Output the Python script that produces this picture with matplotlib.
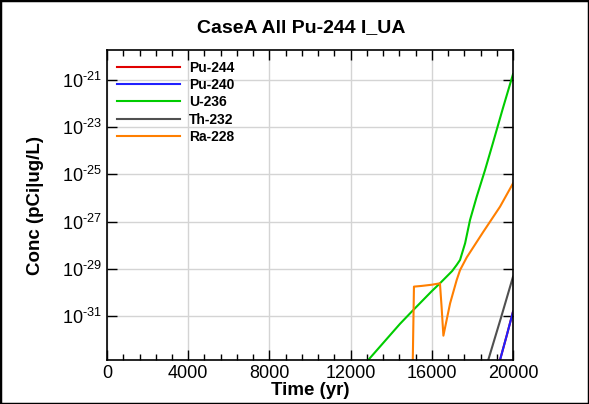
import numpy as np
import matplotlib
matplotlib.use("Agg")
import matplotlib.pyplot as plt
from matplotlib.patches import Rectangle
from matplotlib.ticker import LogLocator, MultipleLocator, NullLocator, FuncFormatter

plt.rcParams['font.family'] = ['Liberation Sans', 'DejaVu Sans']
plt.rcParams['mathtext.fontset'] = 'custom'
plt.rcParams['mathtext.rm'] = 'Liberation Sans'
plt.rcParams['mathtext.it'] = 'Liberation Sans:italic'
plt.rcParams['mathtext.bf'] = 'Liberation Sans:bold'

# Concentrations (log10 of pCi|ug/L) vs time (yr)
pu244_t = [19300, 19360, 19700, 20000]
pu244_log = [-33.1, -32.87, -31.8, -30.82]

pu240_t = [19300, 19360, 19700, 20000]
pu240_log = [-33.1, -32.87, -31.8, -30.82]

u236_t = [12600, 12870, 14430, 15010, 16000, 16400, 17000, 17225, 17390,
          17640, 17880, 18210, 18620, 19000, 19500, 20000]
u236_log = [-33.2, -32.87, -31.34, -30.82, -29.95, -29.62, -29.1, -28.84, -28.63,
            -27.92, -26.94, -25.95, -24.82, -23.7, -22.2, -20.75]

th232_t = [18600, 18780, 19400, 20000]
th232_log = [-33.2, -32.87, -31.1, -29.34]

ra228_t = [15000, 15060, 15120, 15500, 16000, 16400, 16480, 16570, 16700, 16900,
           17225, 17390, 17720, 18540, 19360, 20000]
ra228_log = [-34.0, -33.0, -29.76, -29.73, -29.68, -29.62, -30.6, -31.84, -31.3, -30.47,
             -29.48, -29.06, -28.52, -27.43, -26.37, -25.38]

series = [
    ("Pu-244", pu244_t, pu244_log, "#e00000"),
    ("Pu-240", pu240_t, pu240_log, "#2020ff"),
    ("U-236", u236_t, u236_log, "#00cc00"),
    ("Th-232", th232_t, th232_log, "#505050"),
    ("Ra-228", ra228_t, ra228_log, "#ff7f00"),
]

fig = plt.figure(figsize=(5.89, 4.04), dpi=100)
ax = fig.add_axes([0.1817, 0.109, 0.6893, 0.767])

for name, t, lg, c in series:
    ax.plot(t, 10.0 ** np.array(lg), color=c, lw=1.5, label=name)

ax.set_yscale('log')
ax.set_xlim(0, 20000)
ax.set_ylim(10 ** -32.87, 10 ** -19.73)

ax.xaxis.set_major_locator(MultipleLocator(4000))
ax.xaxis.set_minor_locator(MultipleLocator(800))
ax.yaxis.set_major_locator(LogLocator(base=100.0, subs=(0.1,), numticks=20))
ax.yaxis.set_minor_locator(NullLocator())


def log_fmt(v, pos):
    e = int(round(np.log10(v)))
    if e < 0:
        return r'$10^{\text{-}%d}$' % (-e)
    return r'$10^{%d}$' % e


ax.yaxis.set_major_formatter(FuncFormatter(log_fmt))

ax.grid(True, which='major', color='#d4d4d4', lw=1)
ax.set_axisbelow(True)
ax.tick_params(which='both', direction='in', top=True, right=True, labelsize=13)
ax.tick_params(which='major', length=7, width=1)
ax.tick_params(which='minor', length=4, width=1)
for s in ax.spines.values():
    s.set_linewidth(1.2)

ax.set_xlabel('Time (yr)', fontsize=13.5, fontweight='bold', labelpad=0)
ax.set_ylabel('Conc (pCi|ug/L)', fontsize=13.5, fontweight='bold', labelpad=13)
ax.set_title('CaseA All Pu-244 I_UA', fontsize=14, fontweight='bold', pad=13, x=0.478)

leg = ax.legend(loc='upper left', frameon=False, prop={'size': 10, 'weight': 'bold'},
                handlelength=4.5, handletextpad=0.7, labelspacing=0.24,
                borderaxespad=0, borderpad=0,
                bbox_to_anchor=(0.0246, 0.966))

fig.add_artist(Rectangle((0, 0), 1, 1, transform=fig.transFigure, fill=False,
                         edgecolor='black', lw=2.5))

fig.savefig('out.png', dpi=100)
